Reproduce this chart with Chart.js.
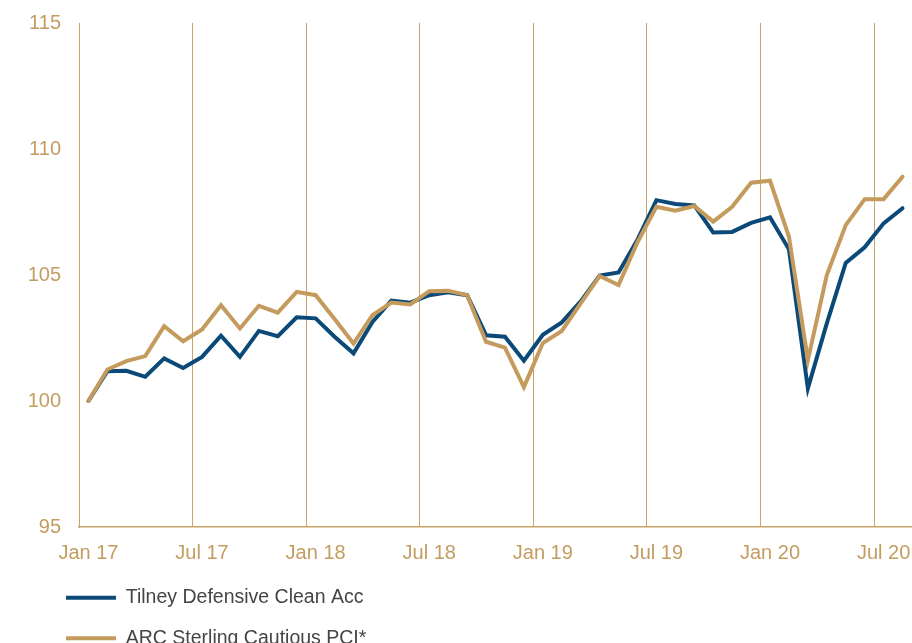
<!DOCTYPE html>
<html>
<head>
<meta charset="utf-8">
<script src="https://cdn.jsdelivr.net/npm/chart.js@4"></script>
<style>
  html, body { margin: 0; padding: 0; background: #ffffff; }
  #wrap { width: 912px; height: 643px; }
</style>
</head>
<body>
<div id="wrap"><canvas id="c" width="912" height="643"></canvas></div>
<script>
const categories = [
  'Jan 17','Feb 17','Mar 17','Apr 17','May 17','Jun 17','Jul 17','Aug 17','Sep 17','Oct 17','Nov 17','Dec 17',
  'Jan 18','Feb 18','Mar 18','Apr 18','May 18','Jun 18','Jul 18','Aug 18','Sep 18','Oct 18','Nov 18','Dec 18',
  'Jan 19','Feb 19','Mar 19','Apr 19','May 19','Jun 19','Jul 19','Aug 19','Sep 19','Oct 19','Nov 19','Dec 19',
  'Jan 20','Feb 20','Mar 20','Apr 20','May 20','Jun 20','Jul 20','Aug 20'
];

const tilneyValues = [
  100.0, 101.18, 101.2, 100.96, 101.69, 101.31, 101.75, 102.59, 101.75, 102.78, 102.57, 103.32,
  103.28, 102.55, 101.89, 103.14, 103.98, 103.9, 104.2, 104.31, 104.2, 102.61, 102.55, 101.6,
  102.63, 103.12, 103.95, 104.98, 105.1, 106.4, 107.97, 107.82, 107.76, 106.69, 106.71, 107.07,
  107.29, 106.02, 100.5, 103.08, 105.48, 106.1, 107.05, 107.65
];

const arcValues = [
  100.0, 101.25, 101.58, 101.78, 102.97, 102.37, 102.84, 103.8, 102.88, 103.78, 103.51, 104.33,
  104.2, 103.25, 102.28, 103.41, 103.91, 103.83, 104.36, 104.37, 104.2, 102.35, 102.12, 100.55,
  102.3, 102.78, 103.87, 104.96, 104.6, 106.3, 107.71, 107.55, 107.74, 107.12, 107.71, 108.66,
  108.74, 106.52, 101.62, 105.0, 106.98, 108.01, 108.01, 108.9
];

const yTicks = [95, 100, 105, 110, 115];
const seriesNames = ['Tilney Defensive Clean Acc', 'ARC Sterling Cautious PCI*'];

const NAVY = '#0b4a78';
const GOLD = '#c49b5c';
const AXIS_GOLD = '#c9a468';
const LABEL_GOLD = '#c39c60';
const LEGEND_TEXT = '#454545';
const FONT = "'Liberation Sans', Arial, sans-serif";

const legendLayoutPlugin = {
  id: 'legendLayout',
  beforeLayout(chart) {
    const lg = chart.legend;
    if (lg && !lg.__patched) {
      const orig = lg.update;
      lg.update = function (maxWidth, maxHeight, margins) {
        const r = orig.call(this, 330, maxHeight, margins);
        this.height = 76;
        return r;
      };
      lg.__patched = true;
    }
  },
  afterLayout(chart) {
    const lg = chart.legend;
    if (!lg) return;
    lg.left = 45;
    lg.right = lg.left + 330;
    lg.width = 330;
  }
};

new Chart(document.getElementById('c'), {
  type: 'line',
  data: {
    labels: categories,
    datasets: [
      {
        label: seriesNames[0],
        data: tilneyValues,
        borderColor: NAVY,
        backgroundColor: NAVY,
        borderWidth: 4,
        pointRadius: 0,
        pointHoverRadius: 0,
        tension: 0,
        borderCapStyle: 'round',
        order: 1
      },
      {
        label: seriesNames[1],
        data: arcValues,
        borderColor: GOLD,
        backgroundColor: GOLD,
        borderWidth: 4,
        pointRadius: 0,
        pointHoverRadius: 0,
        tension: 0,
        borderCapStyle: 'round',
        order: 0
      }
    ]
  },
  options: {
    responsive: false,
    animation: false,
    layout: { autoPadding: false, padding: { top: 23, left: 0, right: 0, bottom: 0 } },
    plugins: {
      tooltip: { enabled: false },
      legend: {
        position: 'bottom',
        align: 'start',
        labels: {
          usePointStyle: true,
          pointStyle: 'line',
          pointStyleWidth: 50,
          padding: 21,
          color: LEGEND_TEXT,
          font: { family: FONT, size: 19.5 },
          sort: (a, b) => a.datasetIndex - b.datasetIndex
        }
      }
    },
    scales: {
      x: {
        type: 'category',
        offset: true,
        grid: {
          offset: true,
          drawTicks: true,
          tickLength: 14,
          tickColor: 'rgba(0,0,0,0)',
          lineWidth: 1,
          color: (ctx) => (ctx.index !== undefined && ctx.index % 6 === 0) ? AXIS_GOLD : 'rgba(0,0,0,0)'
        },
        border: { display: true, color: AXIS_GOLD, width: 1.5 },
        ticks: {
          autoSkip: false,
          maxRotation: 0,
          minRotation: 0,
          padding: 0,
          color: LABEL_GOLD,
          font: { family: FONT, size: 20 },
          callback: function (value, index) {
            return index % 6 === 0 ? this.getLabelForValue(value) : '';
          }
        },
        afterFit: (scale) => { scale.height = 40; }
      },
      y: {
        min: 95,
        max: 115,
        afterBuildTicks: (scale) => { scale.ticks = yTicks.map(v => ({ value: v })); },
        grid: { display: false, drawTicks: true, tickLength: 18 },
        border: { display: true, color: AXIS_GOLD, width: 1 },
        ticks: {
          padding: 0,
          color: LABEL_GOLD,
          font: { family: FONT, size: 20 }
        },
        afterFit: (scale) => { scale.width = 79; }
      }
    }
  },
  plugins: [legendLayoutPlugin]
});
</script>
</body>
</html>
